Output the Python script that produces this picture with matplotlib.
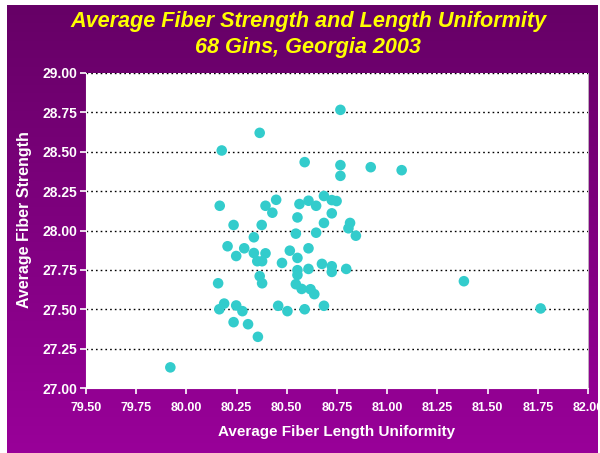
import numpy as np
import matplotlib
matplotlib.use("Agg")
import matplotlib.pyplot as plt
from matplotlib.colors import LinearSegmentedColormap

uniformity = [80.767, 80.365, 80.176, 80.589, 80.767, 80.918, 81.072, 80.767,
              80.685, 80.447, 80.608, 80.724, 80.748, 80.166, 80.394, 80.563,
              80.646, 80.428, 80.724, 80.553, 80.685, 80.815, 80.807, 80.235,
              80.375, 80.545, 80.646, 80.844, 80.336, 80.205, 80.288, 80.608,
              80.515, 80.248, 80.336, 80.394, 80.553, 80.353, 80.377, 80.476,
              80.675, 80.724, 80.553, 80.608, 80.796, 80.724, 80.553, 80.365,
              80.158, 80.377, 80.545, 81.382, 80.574, 80.618, 80.637, 80.188,
              80.164, 80.248, 80.279, 80.457, 80.503, 80.589, 80.685, 81.764,
              80.235, 80.307, 80.356, 79.920]
strength = [28.766, 28.620, 28.508, 28.434, 28.415, 28.402, 28.383, 28.347,
            28.219, 28.195, 28.189, 28.193, 28.187, 28.157, 28.157, 28.168,
            28.157, 28.113, 28.109, 28.083, 28.048, 28.048, 28.014, 28.035,
            28.035, 27.980, 27.986, 27.967, 27.957, 27.900, 27.887, 27.887,
            27.872, 27.838, 27.857, 27.855, 27.826, 27.805, 27.805, 27.794,
            27.788, 27.773, 27.748, 27.756, 27.756, 27.737, 27.718, 27.710,
            27.665, 27.665, 27.659, 27.678, 27.629, 27.627, 27.596, 27.536,
            27.500, 27.524, 27.488, 27.522, 27.488, 27.500, 27.522, 27.505,
            27.418, 27.405, 27.325, 27.131]
x_ticks = [79.50, 79.75, 80.00, 80.25, 80.50, 80.75, 81.00, 81.25, 81.50, 81.75, 82.00]
y_ticks = [27.00, 27.25, 27.50, 27.75, 28.00, 28.25, 28.50, 28.75, 29.00]

plt.rcParams['font.family'] = ['Liberation Sans', 'DejaVu Sans']

W, H = 600, 453
fig = plt.figure(figsize=(W / 100, H / 100), dpi=100)
fig.patch.set_facecolor('white')

# purple gradient background
bg = fig.add_axes([7 / W, 0, (598 - 7) / W, 1 - 5 / H])
bg.set_axis_off()
cmap = LinearSegmentedColormap.from_list('pur', ['#660066', '#990099'])
grad = np.linspace(0, 1, 256).reshape(-1, 1)
bg.imshow(grad, aspect='auto', cmap=cmap, extent=[0, 1, 0, 1], origin='upper')
bg.set_zorder(0)

ax = fig.add_axes([86 / W, 1 - 388 / H, (588 - 86) / W, (388 - 73) / H])
ax.set_zorder(1)
ax.set_facecolor('white')
ax.scatter(uniformity, strength, s=58, color='#33CCCC', edgecolors='none', zorder=3, clip_on=False)

ax.set_xlim(79.5, 82.0)
ax.set_ylim(27.0, 29.0)
ax.set_xticks(x_ticks)
ax.set_yticks(y_ticks)
ax.set_xticklabels([f"{v:.2f}" for v in x_ticks])
ax.set_yticklabels([f"{v:.2f}" for v in y_ticks])
for y in y_ticks[1:]:
    ax.axhline(y, color='black', lw=1.0, linestyle=(0, (1.2, 2.2)), zorder=2)

ax.spines['top'].set_visible(False)
ax.spines['right'].set_color('#cccccc')
ax.spines['right'].set_linewidth(0.6)
ax.spines['left'].set_color('white')
ax.spines['bottom'].set_color('white')
ax.tick_params(axis='both', colors='white', direction='out', length=4, width=1.2)
ax.tick_params(axis='y', pad=2, labelsize=10)
ax.tick_params(axis='x', pad=6, labelsize=9)
for lab in ax.get_xticklabels() + ax.get_yticklabels():
    lab.set_fontweight('bold')
    lab.set_color('white')

fig.text(308 / W, 1 - 22 / H, 'Average Fiber Strength and Length Uniformity',
         ha='center', va='center', color='#FFFF00', fontsize=15.6,
         fontweight='bold', fontstyle='italic')
fig.text(308 / W, 1 - 47 / H, '68 Gins, Georgia 2003',
         ha='center', va='center', color='#FFFF00', fontsize=15.6,
         fontweight='bold', fontstyle='italic')
fig.text(337 / W, 1 - 432 / H, 'Average Fiber Length Uniformity',
         ha='center', va='center', color='white', fontsize=11, fontweight='bold')
fig.text(25 / W, 1 - 220 / H, 'Average Fiber Strength', rotation=90,
         ha='center', va='center', color='white', fontsize=11.5, fontweight='bold')

fig.savefig('out.png', dpi=100, facecolor=fig.get_facecolor())
